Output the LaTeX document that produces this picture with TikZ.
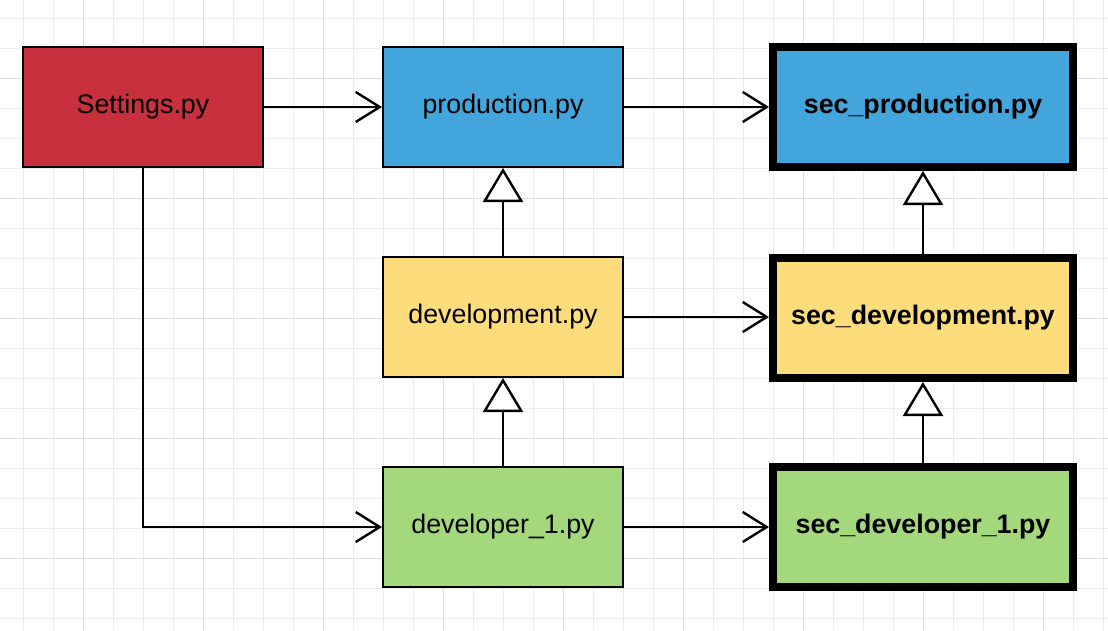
\documentclass[tikz,border=0pt]{standalone}
\usepackage{fontspec}
\setmainfont{Liberation Sans}
\usetikzlibrary{arrows.meta}
\definecolor{gridminor}{RGB}{236,236,236}
\definecolor{gridmajor}{RGB}{221,221,221}
\definecolor{cred}{RGB}{199,48,60}
\definecolor{cblue}{RGB}{66,165,219}
\definecolor{cyellow}{RGB}{253,220,124}
\definecolor{cgreen}{RGB}{163,217,124}
\tikzset{
  file/.style={draw=black, line width=2pt, minimum width=240pt, minimum height=120pt,
    inner sep=0pt, font=\fontsize{26.8}{30}\selectfont},
  secfile/.style={draw=black, line width=8pt, minimum width=300pt, minimum height=120pt,
    inner sep=0pt, font=\fontsize{26.8}{30}\selectfont\bfseries},
  uses/.style={draw=black, line width=2.2pt, -{Straight Barb[length=24pt,width=30pt,line width=2.4pt]}},
  inherits/.style={draw=black, line width=2.2pt, -{Triangle[length=34pt,width=40pt,fill=white,line width=2.4pt]}},
}
\begin{document}
\begin{tikzpicture}[x=1pt,y=-1pt]
\useasboundingbox (0,0) rectangle (1108,630);
\fill[white] (0,0) rectangle (1108,630);
% grid
\foreach \gx in {23,53,...,1103} {\draw[gridminor, line width=1pt] (\gx,0) -- (\gx,630);}
\foreach \gy in {18,48,...,618} {\draw[gridminor, line width=1pt] (0,\gy) -- (1108,\gy);}
\foreach \gx in {83,203,...,1043} {\draw[gridmajor, line width=1pt] (\gx,0) -- (\gx,630);}
\foreach \gy in {78,198,...,558} {\draw[gridmajor, line width=1pt] (0,\gy) -- (1108,\gy);}
% nodes
\node[file, fill=cred] (settings) at (143,107) {Settings.py};
\node[file, fill=cblue] (prod) at (503,107) {production.py};
\node[file, fill=cyellow] (dev) at (503,317) {development.py};
\node[file, fill=cgreen] (dev1) at (503,527) {developer\_1.py};
\node[secfile, fill=cblue] (sprod) at (923,107) {sec\_production.py};
\node[secfile, fill=cyellow] (sdev) at (923,318) {sec\_development.py};
\node[secfile, fill=cgreen] (sdev1) at (923,527) {sec\_developer\_1.py};
% connectors
\draw[uses] (settings.east) -- (prod.west);
\draw[uses] (settings.south) |- (dev1.west);
\draw[uses] (prod.east) -- (prod.east -| sprod.west);
\draw[uses] (dev.east) -- (dev.east -| sdev.west);
\draw[uses] (dev1.east) -- (dev1.east -| sdev1.west);
\draw[inherits] (dev.north) -- (prod.south);
\draw[inherits] (dev1.north) -- (dev.south);
\draw[inherits] (sdev.north) -- (sprod.south);
\draw[inherits] (sdev1.north) -- (sdev.south);
\end{tikzpicture}
\end{document}
